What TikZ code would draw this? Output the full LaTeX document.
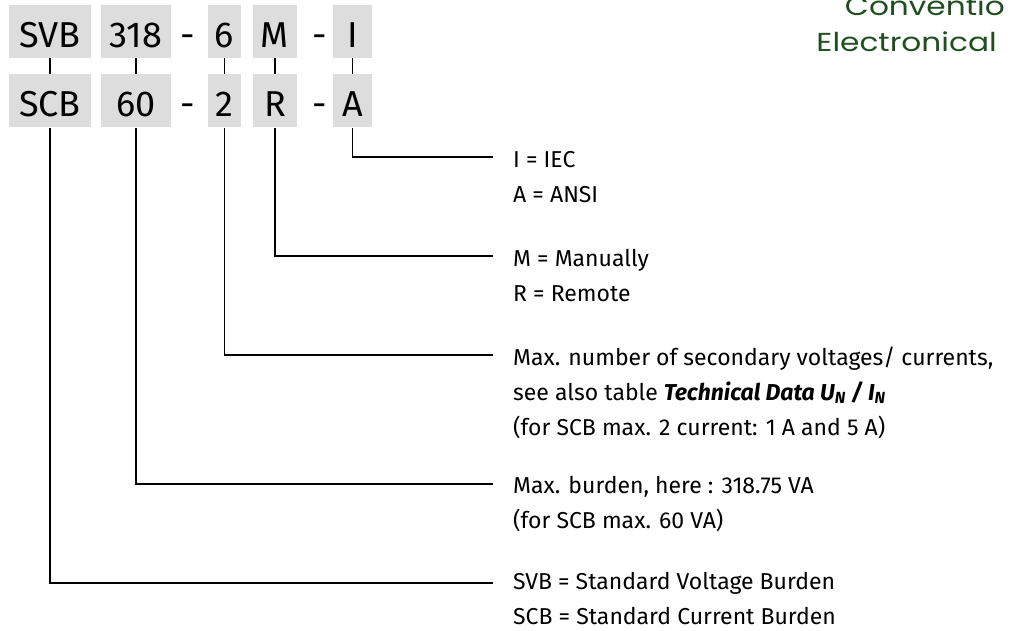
\documentclass[tikz,border=0pt]{standalone}
\usepackage{fontspec}
\setmainfont{Fira Sans}
\newfontfamily\titlefont{Poppins}
\usetikzlibrary{positioning}
\definecolor{boxgray}{HTML}{DDDDDD}
\definecolor{titlegreen}{HTML}{1F4F1F}
\tikzset{
  codebox/.style={rectangle, fill=boxgray, minimum height=53pt, inner sep=0pt,
    text height=31pt, text depth=0pt, font=\fontsize{36}{36}\selectfont},
  hyph/.style={rectangle, minimum height=53pt, inner sep=0pt,
    text height=31pt, text depth=0pt, font=\fontsize{36}{36}\selectfont},
  desc/.style={anchor=base west, align=left, inner sep=0pt, font=\fontsize{23}{35}\selectfont},
  lead/.style={line width=1.6pt},
  title/.style={anchor=base east, inner sep=0pt, xscale=1.2, text=titlegreen, font=\titlefont\fontsize{26}{26}\selectfont},
}

\begin{document}
\begin{tikzpicture}[x=1pt,y=-1pt]
\useasboundingbox (0,0) rectangle (1010,630);

% heading
\node[title] (conv) at (1005,15) {Conventio};
\node[title] (elec) at (997,51) {Electronical};

% top row
\node[codebox, minimum width=82pt] (svb) at (50,31.5) {SVB};
\node[codebox, minimum width=70pt] (n318) at (136,31.5) {318};
\node[hyph] (h1) at (188,31.5) {-};
\node[codebox, minimum width=33pt] (n6) at (224.5,31.5) {6};
\node[codebox, minimum width=44pt] (m) at (275,31.5) {M};
\node[hyph] (h2) at (320,31.5) {-};
\node[codebox, minimum width=39pt] (i) at (352.5,31.5) {I};

% bottom row
\node[codebox, minimum width=82pt, below=16pt of svb] (scb) {SCB};
\node[codebox, minimum width=70pt, below=16pt of n318] (n60) {60};
\node[hyph, below=16pt of h1] (h3) {-};
\node[codebox, minimum width=33pt, below=16pt of n6] (n2) {2};
\node[codebox, minimum width=44pt, below=16pt of m] (r) {R};
\node[hyph, below=16pt of h2] (h4) {-};
\node[codebox, minimum width=39pt, below=16pt of i] (a) {A};

\draw[lead] (svb) -- (scb);
\draw[lead] (n318) -- (n60);
\draw[lead] (n6) -- (n2);
\draw[lead] (m) -- (r);
\draw[lead] (i) -- (a);

% leads to the legend
\coordinate (eA) at (493,157);
\coordinate (eR) at (493,256);
\coordinate (e2) at (493,355);
\coordinate (e60) at (493,484);
\coordinate (eSCB) at (493,583);

\draw[lead] (a.south) |- (eA);
\draw[lead] (r.south) |- (eR);
\draw[lead] (n2.south) |- (e2);
\draw[lead] (n60.south) |- (e60);
\draw[lead] (scb.south) |- (eSCB);

% base of a legend is its last line
\node[desc] (tA) at ([xshift=20pt,yshift=-45pt]eA) {I = IEC\\A = ANSI};
\node[desc] (tR) at ([xshift=20pt,yshift=-45pt]eR) {M = Manually\\R = Remote};
\node[desc] (t2) at ([xshift=20pt,yshift=-80pt]e2) {Max. number of secondary voltages/ currents,\\
  see also table \textbf{\textit{Technical Data U\textsubscript{N} / I\textsubscript{N}}}\\
  (for SCB max. 2 current: 1 A and 5 A)};
\node[desc] (t60) at ([xshift=20pt,yshift=-44pt]e60) {Max. burden, here : 318.75 VA\\(for SCB max. 60 VA)};
\node[desc] (tSCB) at ([xshift=20pt,yshift=-41pt]eSCB) {SVB = Standard Voltage Burden\\SCB = Standard Current Burden};

\end{tikzpicture}
\end{document}
